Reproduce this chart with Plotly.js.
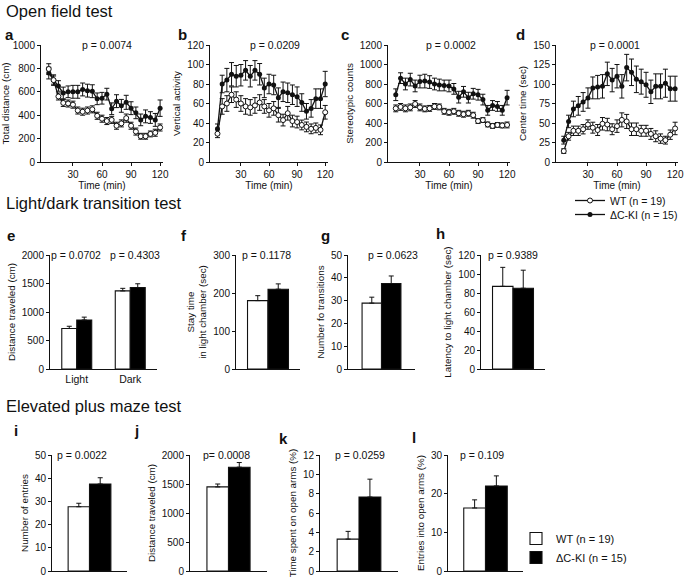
<!DOCTYPE html>
<html>
<head>
<meta charset="utf-8">
<script src="https://cdn.plot.ly/plotly-3.0.1.min.js"></script>
<style>
body { margin: 0; background: #fff; }
#fig { width: 685px; height: 580px; }
</style>
</head>
<body>
<div id="fig"></div>
<script>
// open field test, 5 min bins
const timeMin = [5, 10, 15, 20, 25, 30, 35, 40, 45, 50, 55, 60, 65, 70, 75, 80, 85, 90, 95, 100, 105, 110, 115, 120]

const distWT = [795, 700, 560, 505, 500, 490, 440, 430, 440, 450, 395, 370, 350, 360, 310, 330, 375, 310, 260, 220, 220, 240, 250, 295]
const distWTerr = [45, 35, 30, 30, 30, 30, 30, 30, 30, 30, 30, 30, 30, 30, 30, 30, 35, 30, 30, 25, 25, 25, 30, 30]
const distKI = [760, 700, 650, 590, 600, 600, 600, 620, 610, 605, 540, 545, 580, 455, 520, 480, 510, 460, 420, 360, 390, 380, 360, 460]
const distKIerr = [50, 45, 45, 50, 50, 55, 55, 55, 55, 55, 50, 50, 50, 50, 55, 55, 60, 55, 50, 50, 55, 50, 55, 70]

const vertWT = [29, 57, 60, 69, 64, 60, 57, 56, 58, 61, 57, 53, 55, 48, 43, 50, 42, 41, 38, 36, 34, 35, 33, 51]
const vertWTerr = [4, 8, 8, 8, 8, 8, 8, 8, 8, 8, 7, 7, 7, 7, 6, 7, 6, 6, 5, 5, 5, 5, 5, 7]
const vertKI = [34, 80, 84, 90, 88, 89, 94, 88, 94, 90, 76, 80, 79, 66, 72, 71, 69, 67, 61, 52, 55, 65, 65, 80]
const vertKIerr = [5, 9, 12, 12, 11, 11, 10, 11, 10, 11, 10, 10, 10, 10, 10, 10, 10, 10, 9, 8, 9, 10, 10, 13]

const stereoWT = [550, 565, 550, 560, 595, 560, 545, 550, 570, 565, 520, 510, 520, 500, 490, 500, 480, 420, 430, 385, 370, 380, 375, 380]
const stereoWTerr = [35, 35, 35, 35, 35, 35, 30, 30, 30, 30, 30, 30, 30, 30, 30, 30, 30, 25, 25, 25, 25, 25, 25, 30]
const stereoKI = [690, 860, 800, 845, 780, 825, 830, 820, 800, 790, 785, 780, 750, 665, 720, 660, 700, 690, 640, 530, 580, 570, 530, 660]
const stereoKIerr = [60, 55, 60, 65, 60, 65, 70, 65, 60, 60, 55, 60, 55, 60, 55, 55, 55, 55, 55, 50, 50, 50, 50, 75]

const centerWT = [14, 33, 40, 40, 42, 48, 44, 41, 49, 48, 42, 46, 54, 52, 42, 42, 40, 40, 36, 33, 30, 28, 35, 43]
const centerWTerr = [3, 5, 6, 6, 6, 6, 7, 7, 8, 8, 7, 8, 9, 9, 8, 8, 7, 7, 7, 7, 6, 5, 6, 8]
const centerKI = [28, 52, 68, 72, 77, 82, 95, 96, 97, 113, 105, 110, 97, 121, 115, 106, 103, 99, 90, 97, 97, 101, 94, 94]
const centerKIerr = [5, 8, 10, 12, 12, 13, 14, 15, 15, 15, 15, 15, 15, 17, 17, 17, 16, 16, 15, 16, 16, 18, 16, 16]

// light/dark transition test
const phaseCats = ["Light", "Dark"]
const ldDistWT = [710, 1370]
const ldDistWTerr = [40, 45]
const ldDistKI = [860, 1430]
const ldDistKIerr = [50, 65]

const oneCat = ["group"]
const stayWT = [180], stayWTerr = [13]
const stayKI = [210], stayKIerr = [14]
const transWT = [28.9], transWTerr = [2.6]
const transKI = [37.5], transKIerr = [3.3]
const latWT = [87], latWTerr = [20]
const latKI = [85], latKIerr = [19]

// elevated plus maze
const entriesWT = [27.7], entriesWTerr = [1.5]
const entriesKI = [37.5], entriesKIerr = [2.7]
const epmDistWT = [1450], epmDistWTerr = [50]
const epmDistKI = [1790], epmDistKIerr = [80]
const openTimeWT = [3.3], openTimeWTerr = [0.8]
const openTimeKI = [7.65], openTimeKIerr = [1.85]
const openEntWT = [16.3], openEntWTerr = [2.1]
const openEntKI = [22.0], openEntKIerr = [2.6]

const nameWT = "WT (n = 19)"
const nameKI = "\u0394C-KI (n = 15)"
const FONT = "Liberation Sans, Arial, Helvetica, sans-serif"
const INK = "#111"
const W = 685, H = 580

function px(x) { return x / W }
function py(y) { return 1 - y / H }

let traces = []
let annotations = []

function legendBox(x, y, size) {
    return {x: px(x), y: py(y), xanchor: "left", yanchor: "top", bgcolor: "rgba(0,0,0,0)",
        font: {size: size, color: INK}, itemwidth: 30, tracegroupgap: 0}
}

let layout = {
    width: W, height: H,
    margin: {l: 0, r: 0, t: 0, b: 0},
    paper_bgcolor: "white", plot_bgcolor: "white",
    font: {family: FONT, size: 10, color: INK},
    barmode: "overlay",
    showlegend: true,
    // line legend (top) and bar legend (bottom), one box per entry
    legend: legendBox(570, 186, 10.5),
    legend3: legendBox(570, 200, 10.5),
    legend2: legendBox(516, 524, 11),
    legend4: legendBox(516, 543, 11)
}

function axKey(n, a) { return a + "axis" + (n === 1 ? "" : n) }
function axRef(n, a) { return a + (n === 1 ? "" : n) }

function baseAxis() {
    return {
        showline: true, linecolor: INK, linewidth: 1,
        ticks: "outside", ticklen: 3, tickwidth: 1, tickcolor: INK,
        showgrid: false, zeroline: false, fixedrange: true,
        tickfont: {size: 10, color: INK}
    }
}

function setAxes(n, xdom, ydom, xopts, ymax, ydtick, ytitle) {
    let xa = Object.assign(baseAxis(), {domain: [px(xdom[0]), px(xdom[1])], anchor: axRef(n, "y")}, xopts)
    let ya = Object.assign(baseAxis(), {
        domain: [py(ydom[1]), py(ydom[0])], anchor: axRef(n, "x"),
        range: [0, ymax], dtick: ydtick, tick0: 0,
        title: {text: ytitle, font: {size: 9.8, color: INK}, standoff: 4}
    })
    layout[axKey(n, "x")] = xa
    layout[axKey(n, "y")] = ya
}

function pLabel(n, text, xfrac, yval) {
    annotations.push({xref: axRef(n, "x") + " domain", yref: axRef(n, "y"), x: xfrac, y: yval,
        text: text, showarrow: false, xanchor: "center", yanchor: "middle", font: {size: 10.5, color: INK}})
}

function linePanel(n, xdom, ymax, ydtick, ytitle, wt, wtErr, ki, kiErr, legendOn) {
    setAxes(n, xdom, [45, 162], {
        range: [-3, 123], tickvals: [30, 60, 90, 120],
        title: {text: "Time (min)", font: {size: 10, color: INK}, standoff: 2}
    }, ymax, ydtick, ytitle)
    let err = function (arr) { return {type: "data", array: arr, color: INK, thickness: 1, width: 2.5} }
    traces.push({
        x: timeMin, y: ki, error_y: err(kiErr), mode: "lines+markers", cliponaxis: false,
        line: {color: INK, width: 1.3}, marker: {color: INK, size: 5},
        xaxis: axRef(n, "x"), yaxis: axRef(n, "y"), name: nameKI, showlegend: legendOn, legend: "legend3"
    })
    traces.push({
        x: timeMin, y: wt, error_y: err(wtErr), mode: "lines+markers", cliponaxis: false,
        line: {color: INK, width: 1.3}, marker: {color: "white", size: 5, line: {color: INK, width: 1}},
        xaxis: axRef(n, "x"), yaxis: axRef(n, "y"), name: nameWT, showlegend: legendOn, legend: "legend"
    })
}

function barPanel(n, xdom, ydom, cats, half, ymax, ydtick, ytitle, wt, wtErr, ki, kiErr, legendOn) {
    let showCats = cats.length > 1
    setAxes(n, xdom, ydom, {
        type: "category", range: [-0.5, cats.length - 0.5],
        ticks: "", showticklabels: showCats, tickfont: {size: 10.5, color: INK}
    }, ymax, ydtick, ytitle)
    let err = function (arr) {
        return {type: "data", symmetric: false, array: arr, arrayminus: arr.map(function () { return 0 }),
            color: INK, thickness: 1, width: 2.5}
    }
    traces.push({
        type: "bar", x: cats, y: wt, offset: -half, width: half, error_y: err(wtErr),
        marker: {color: "white", line: {color: INK, width: 1.1}},
        xaxis: axRef(n, "x"), yaxis: axRef(n, "y"), name: nameWT,
        showlegend: legendOn, legend: "legend2"
    })
    traces.push({
        type: "bar", x: cats, y: ki, offset: 0, width: half, error_y: err(kiErr),
        marker: {color: "black", line: {color: INK, width: 1.1}},
        xaxis: axRef(n, "x"), yaxis: axRef(n, "y"), name: nameKI,
        showlegend: legendOn, legend: "legend4"
    })
}

// a-d
linePanel(1, [41, 163], 1000, 200, "Total distance (cm)", distWT, distWTerr, distKI, distKIerr, false)
linePanel(2, [210, 328], 120, 20, "Vertical activity", vertWT, vertWTerr, vertKI, vertKIerr, false)
linePanel(3, [388, 510], 1200, 200, "Stereotypic counts", stereoWT, stereoWTerr, stereoKI, stereoKIerr, false)
linePanel(4, [556, 678], 150, 25, "Center time (sec)", centerWT, centerWTerr, centerKI, centerKIerr, true)
pLabel(1, "p = 0.0074", 0.54, 1000)
pLabel(2, "p = 0.0209", 0.55, 120)
pLabel(3, "p = 0.0002", 0.52, 1200)
pLabel(4, "p = 0.0001", 0.48, 150)

// e-h
let midRow = [255, 369]
barPanel(5, [50, 157], midRow, phaseCats, 0.28, 2000, 500, "Distance traveled (cm)", ldDistWT, ldDistWTerr, ldDistKI, ldDistKIerr, false)
barPanel(6, [236, 300], midRow, oneCat, 0.32, 300, 100, "Stay time<br>in light chamber (sec)", stayWT, stayWTerr, stayKI, stayKIerr, false)
barPanel(7, [348, 415], midRow, oneCat, 0.29, 50, 10, "Number fo transitions", transWT, transWTerr, transKI, transKIerr, false)
barPanel(8, [481, 545], midRow, oneCat, 0.32, 120, 20, "Latency to light chamber (sec)", latWT, latWTerr, latKI, latKIerr, false)
pLabel(5, "p = 0.0702", 0.24, 2000)
pLabel(5, "p = 0.4303", 0.79, 2000)
pLabel(6, "p = 0.1178", 0.47, 300)
pLabel(7, "p = 0.0623", 0.67, 50)
pLabel(8, "p = 0.9389", 0.5, 120)

// i-l
let lowRow = [455, 571]
barPanel(9, [52, 127], lowRow, oneCat, 0.285, 50, 10, "Number of entries", entriesWT, entriesWTerr, entriesKI, entriesKIerr, false)
barPanel(10, [190, 267], lowRow, oneCat, 0.28, 2000, 500, "Distance traveled (cm)", epmDistWT, epmDistWTerr, epmDistKI, epmDistKIerr, false)
barPanel(11, [320, 398], lowRow, oneCat, 0.28, 12, 2, "Time spent on open arms (%)", openTimeWT, openTimeWTerr, openTimeKI, openTimeKIerr, false)
barPanel(12, [448, 523], lowRow, oneCat, 0.29, 30, 10, "Entries into open arms (%)", openEntWT, openEntWTerr, openEntKI, openEntKIerr, true)
pLabel(9, "p = 0.0022", 0.4, 50)
pLabel(10, "p= 0.0008", 0.48, 2000)
pLabel(11, "p = 0.0259", 0.51, 12)
pLabel(12, "p = 0.109", 0.45, 30)

// section headings and panel letters
let headings = [["Open field test", 4, 11], ["Light/dark transition test", 4, 203], ["Elevated plus maze test", 4, 406]]
headings.forEach(function (h) {
    annotations.push({xref: "paper", yref: "paper", x: px(h[1]), y: py(h[2]), text: h[0], showarrow: false,
        xanchor: "left", yanchor: "middle", font: {size: 16.5, color: INK}})
})
let letters = [["a", 3, 34], ["b", 176, 35], ["c", 339, 35], ["d", 514, 35],
    ["e", 5, 235], ["f", 179, 235], ["g", 319, 235], ["h", 434, 233],
    ["i", 12, 430], ["j", 132, 430], ["k", 277, 438], ["l", 410, 437]]
letters.forEach(function (l) {
    annotations.push({xref: "paper", yref: "paper", x: px(l[1]), y: py(l[2]), text: "<b>" + l[0] + "</b>",
        showarrow: false, xanchor: "left", yanchor: "middle", font: {size: 15, color: INK}})
})

layout.annotations = annotations

Plotly.newPlot("fig", traces, layout, {displayModeBar: false, staticPlot: true})
</script>
</body>
</html>
